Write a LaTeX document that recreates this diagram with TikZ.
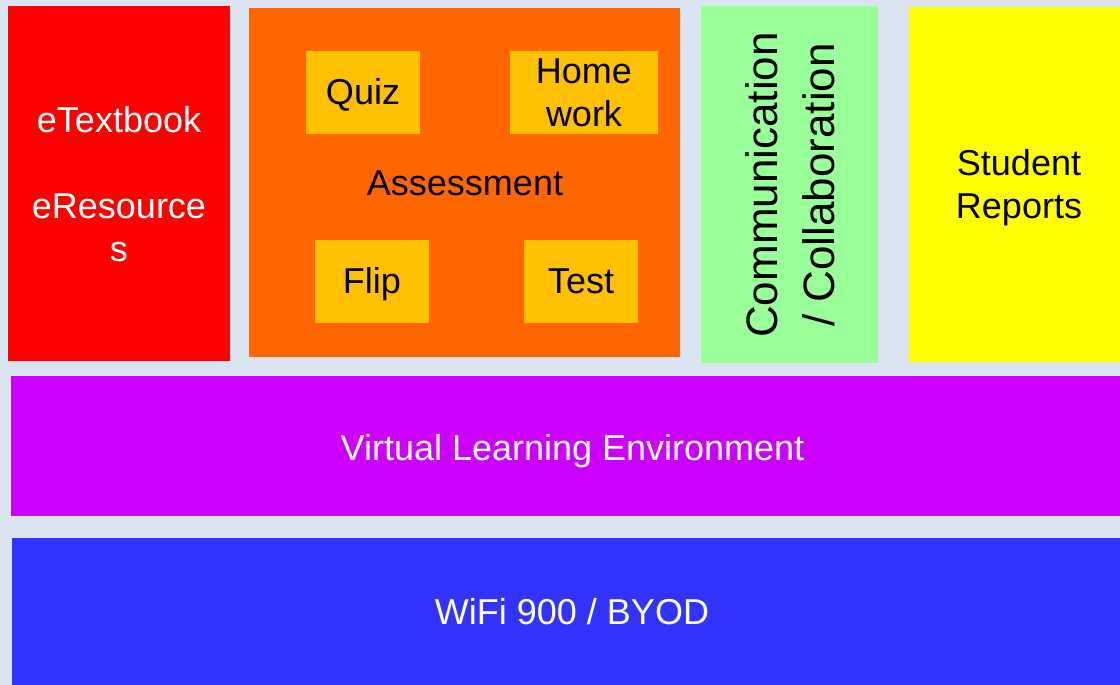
\documentclass[tikz,border=0pt]{standalone}
\usepackage{fontspec}
\setmainfont{Liberation Sans}
\definecolor{bgblue}{HTML}{DAE5F1}
\definecolor{boxred}{HTML}{FF0000}
\definecolor{boxorange}{HTML}{FF6600}
\definecolor{boxgold}{HTML}{FFC000}
\definecolor{boxgreen}{HTML}{99FF99}
\definecolor{boxyellow}{HTML}{FFFF00}
\definecolor{boxpurple}{HTML}{CC00FF}
\definecolor{boxblue}{HTML}{3333FF}
\begin{document}
\begin{tikzpicture}[
    x=1pt, y=-1pt,
    box/.style={rectangle, inner sep=0pt, anchor=north west},
    sub/.style={box, fill=boxgold, minimum height=83pt},
    txt/.style={inner sep=0pt, align=center, font=\fontsize{36}{43}\selectfont}
]
\useasboundingbox (0,0) rectangle (1120,685);
\clip (0,0) rectangle (1120,685);
\fill[bgblue] (0,0) rectangle (1120,685);

% Obere Reihe
\node[box, fill=boxred, minimum width=222pt, minimum height=355pt] (book) at (8,6) {};
\node[box, fill=boxorange, minimum width=431pt, minimum height=349pt] (assess) at (249,8) {};
\node[box, fill=boxgreen, minimum width=177pt, minimum height=357pt] (comm) at (701,6) {};
\node[box, fill=boxyellow, minimum width=220pt, minimum height=355pt] (report) at (909,7) {};

% Assessment
\node[sub, minimum width=114pt] (quiz) at (306,51) {};
\node[sub, minimum width=148pt] (home) at (510,51) {};
\node[sub, minimum width=114pt] (flip) at (315,240) {};
\node[sub, minimum width=114pt] (test) at (524,240) {};

% Untere Reihen
\node[box, fill=boxpurple, minimum width=1123pt, minimum height=140pt] (vle) at (11,376) {};
\node[box, fill=boxblue, minimum width=1122pt, minimum height=160pt] (wifi) at (12,538) {};

% Texte
\node[txt, text=white] (booktxt) at (119,184) {eTextbook\\ \\eResource\\s};
\node[txt, anchor=base] (assesstxt) at (465,195) {Assessment};
\node[txt, anchor=base] (quiztxt) at (363,105) {Quiz};
\node[txt] (hometxt) at (584,93) {Home\\work};
\node[txt, anchor=base] (fliptxt) at (372,293) {Flip};
\node[txt, anchor=base] (testtxt) at (581,293) {Test};
\node[txt, rotate=90, font=\fontsize{44}{57}\selectfont] (commtxt) at (790,185) {Communication\\/ Collaboration};
\node[txt] (reporttxt) at (1019,188) {Student\\Reports};
\node[txt, text=white, anchor=base] (vletxt) at (572.5,460) {Virtual Learning Environment};
\node[txt, text=white, anchor=base] (wifitxt) at (572,624) {WiFi 900 / BYOD};
\end{tikzpicture}
\end{document}
